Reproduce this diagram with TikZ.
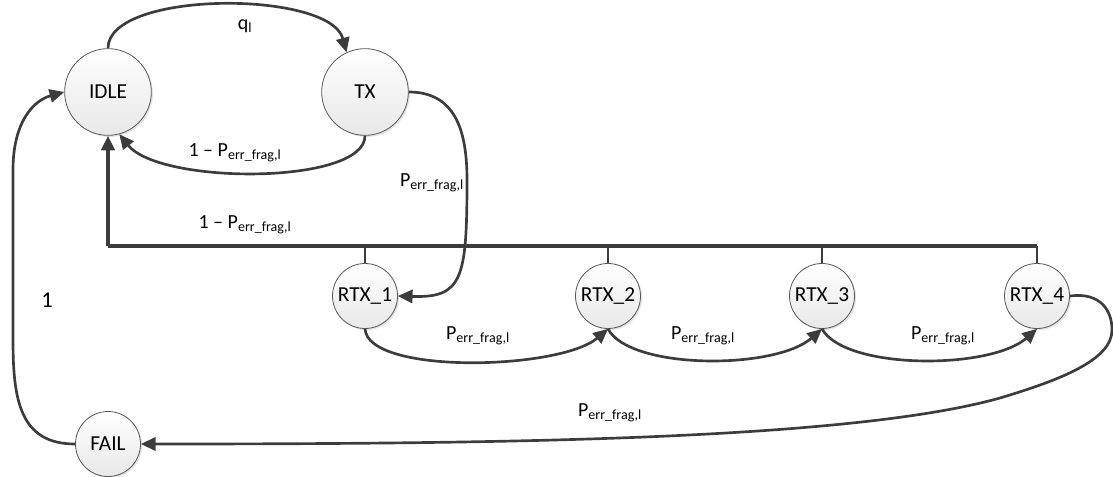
\documentclass[tikz,border=0pt]{standalone}
\usepackage{fontspec}
\setmainfont{Carlito}
\usetikzlibrary{arrows.meta,shadows}
\definecolor{lnc}{HTML}{3C3C3C}
\begin{document}
\begin{tikzpicture}[x=0.75pt,y=-0.75pt,
  state/.style={circle,draw=gray!70!black,line width=0.6pt,inner sep=0pt,
    top color=white,bottom color=gray!18,
    drop shadow={shadow xshift=1.2pt,shadow yshift=-1.2pt,fill=gray!50,opacity=0.45},
    font=\fontsize{16}{19}\selectfont},
  big/.style={state,minimum size=65pt},
  small/.style={state,minimum size=48.75pt},
  arr/.style={draw=lnc,line width=2pt,-{Triangle[length=11pt,width=10pt]}},
  busline/.style={draw=lnc,line width=3pt},
  stub/.style={draw=lnc,line width=1.3pt},
  lbl/.style={font=\fontsize{15}{18}\selectfont,inner sep=0pt}]
\useasboundingbox (0,0) rectangle (1113,477);

\node[big] (IDLE) at (108,92) {IDLE};
\node[big] (TX) at (365,92) {TX};
\node[small] (R1) at (365,296) {RTX\_1};
\node[small] (R2) at (608,296) {RTX\_2};
\node[small] (R3) at (822,296) {RTX\_3};
\node[small] (R4) at (1037,296) {RTX\_4};
\node[small] (FAIL) at (108,444) {FAIL};

\coordinate (busL) at (108,246);
\coordinate (busR) at (1037,246);

% bus
\draw[stub] (R1.north) -- (R1.north |- busL);
\draw[stub] (R2.north) -- (R2.north |- busL);
\draw[stub] (R3.north) -- (R3.north |- busL);
\draw[stub] (R4.north) -- (busR);
\draw[busline] (busR) -- (busL);
\draw[busline,-{Triangle[length=11pt,width=10pt]}] (busL) -- (IDLE.south);

% IDLE -> TX
\draw[arr] (IDLE.north) .. controls (108,-10) and (330,-10) .. (TX.115);
% TX -> IDLE
\draw[arr] (TX.south) .. controls (365,185) and (160,185) .. (IDLE.-75);
% TX -> RTX_1
\draw[arr] (TX.east) .. controls (455,92) and (467,130) .. (467,180)
  .. controls (467,280) and (462,298) .. (R1.east);
% RTX chain
\draw[arr] (R1.south) .. controls (368,375) and (560,370) .. (R2.south);
\draw[arr] (R2.south) .. controls (630,370) and (775,370) .. (R3.south);
\draw[arr] (R3.south) .. controls (845,370) and (990,370) .. (R4.south);
% RTX_4 -> FAIL
\draw[arr] (R4.east) .. controls (1100,292) and (1112,310) .. (1112,330)
  .. controls (1112,360) and (1060,380) .. (1000,398)
  .. controls (850,440) and (500,444) .. (FAIL.east);
% FAIL -> IDLE
\draw[arr] (FAIL.west) .. controls (20,444) and (13,400) .. (13,340)
  -- (13,170) .. controls (13,120) and (35,100) .. (IDLE.west);

% labels
\node[lbl] (lq) at (245,26) {q\textsubscript{l}};
\node[lbl] (l1) at (235,153) {1 – P\textsubscript{err\_frag,l}};
\node[lbl] (l2) at (432,183) {P\textsubscript{err\_frag,l}};
\node[lbl] (l3) at (245,225) {1 – P\textsubscript{err\_frag,l}};
\node[lbl] (l4) at (478,336) {P\textsubscript{err\_frag,l}};
\node[lbl] (l5) at (703,336) {P\textsubscript{err\_frag,l}};
\node[lbl] (l6) at (943,336) {P\textsubscript{err\_frag,l}};
\node[lbl] (l7) at (610,413) {P\textsubscript{err\_frag,l}};
\node[lbl,font=\fontsize{17}{20}\selectfont] (lone) at (47,300) {1};
\end{tikzpicture}
\end{document}
